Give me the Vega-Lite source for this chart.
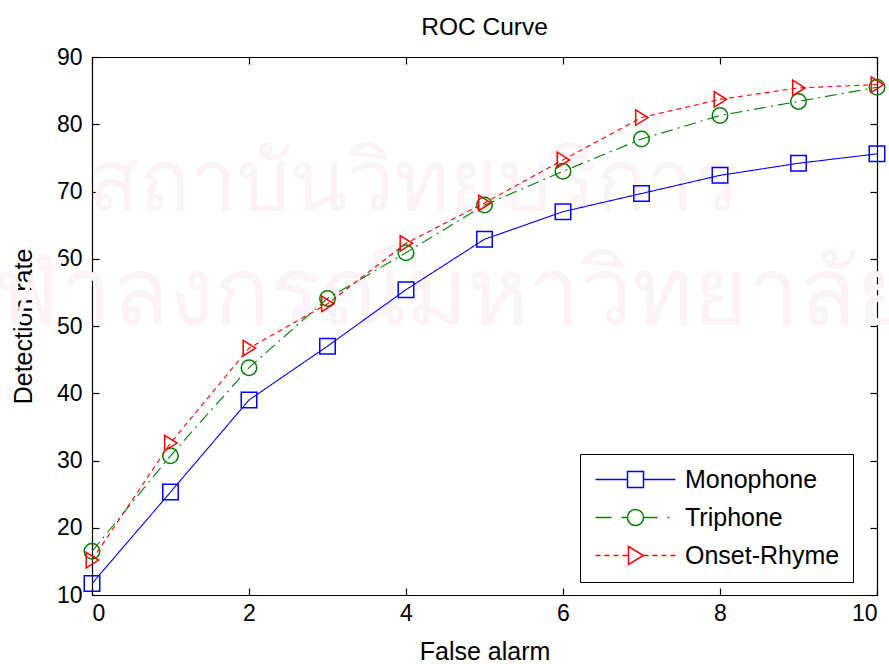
{
  "$schema": "https://vega.github.io/schema/vega-lite/v6.json",
  "width": 785,
  "height": 538,
  "autosize": "none",
  "padding": {"left": 92, "top": 57, "right": 12, "bottom": 69},
  "background": "white",
  "title": {"text": "ROC Curve", "font": "Liberation Sans, Arial, sans-serif", "fontSize": 24.5, "fontWeight": "normal", "color": "black", "offset": 6, "anchor": "middle"},
  "config": {
    "view": {"stroke": null},
    "axis": {
      "grid": false,
      "domainColor": "black",
      "domainWidth": 1.2,
      "tickColor": "black",
      "tickWidth": 1.2,
      "tickSize": -7,
      "labelColor": "black",
      "labelFont": "Liberation Sans, Arial, sans-serif",
      "labelFontSize": 23,
      "titleColor": "black",
      "titleFont": "Liberation Sans, Arial, sans-serif",
      "titleFontSize": 25,
      "titleFontWeight": "normal"
    }
  },
  "datasets": {
    "roc": [
      {"fa": 0, "dr": 11.7, "series": "Monophone"},
      {"fa": 1, "dr": 25.3, "series": "Monophone"},
      {"fa": 2, "dr": 39.0, "series": "Monophone"},
      {"fa": 3, "dr": 47.0, "series": "Monophone"},
      {"fa": 4, "dr": 55.4, "series": "Monophone"},
      {"fa": 5, "dr": 62.9, "series": "Monophone"},
      {"fa": 6, "dr": 67.0, "series": "Monophone"},
      {"fa": 7, "dr": 69.7, "series": "Monophone"},
      {"fa": 8, "dr": 72.4, "series": "Monophone"},
      {"fa": 9, "dr": 74.2, "series": "Monophone"},
      {"fa": 10, "dr": 75.6, "series": "Monophone"},
      {"fa": 0, "dr": 16.5, "series": "Triphone"},
      {"fa": 1, "dr": 30.7, "series": "Triphone"},
      {"fa": 2, "dr": 43.8, "series": "Triphone"},
      {"fa": 3, "dr": 54.1, "series": "Triphone"},
      {"fa": 4, "dr": 60.9, "series": "Triphone"},
      {"fa": 5, "dr": 68.0, "series": "Triphone"},
      {"fa": 6, "dr": 73.0, "series": "Triphone"},
      {"fa": 7, "dr": 77.8, "series": "Triphone"},
      {"fa": 8, "dr": 81.3, "series": "Triphone"},
      {"fa": 9, "dr": 83.4, "series": "Triphone"},
      {"fa": 10, "dr": 85.5, "series": "Triphone"},
      {"fa": 0, "dr": 15.2, "series": "Onset-Rhyme"},
      {"fa": 1, "dr": 32.6, "series": "Onset-Rhyme"},
      {"fa": 2, "dr": 46.7, "series": "Onset-Rhyme"},
      {"fa": 3, "dr": 53.3, "series": "Onset-Rhyme"},
      {"fa": 4, "dr": 62.3, "series": "Onset-Rhyme"},
      {"fa": 5, "dr": 68.3, "series": "Onset-Rhyme"},
      {"fa": 6, "dr": 74.7, "series": "Onset-Rhyme"},
      {"fa": 7, "dr": 81.0, "series": "Onset-Rhyme"},
      {"fa": 8, "dr": 83.7, "series": "Onset-Rhyme"},
      {"fa": 9, "dr": 85.4, "series": "Onset-Rhyme"},
      {"fa": 10, "dr": 85.9, "series": "Onset-Rhyme"}
    ],
    "wm": [
      {"fa": 4.1, "dr": 67.2, "t": "สถาบันวิทยบริการ", "line": 1},
      {"fa": 4.25, "dr": 50.3, "t": "จุฬาลงกรณ์มหาวิทยาลัย", "line": 2}
    ]
  },
  "layer": [
    {
      "data": {"name": "wm"},
      "transform": [{"filter": "datum.line == 1"}],
      "mark": {"type": "text", "color": "#fbf3f6", "fontSize": 84, "align": "center", "baseline": "alphabetic", "clip": false},
      "encoding": {
        "x": {"field": "fa", "type": "quantitative", "scale": {"domain": [0, 10], "nice": false, "zero": false}, "axis": null},
        "y": {"field": "dr", "type": "quantitative", "scale": {"domain": [10, 90], "nice": false, "zero": false}, "axis": null},
        "text": {"field": "t"}
      }
    },
    {
      "data": {"name": "wm"},
      "transform": [{"filter": "datum.line == 2"}],
      "mark": {"type": "text", "color": "#fbf3f6", "fontSize": 93, "align": "center", "baseline": "alphabetic", "clip": false},
      "encoding": {
        "x": {"field": "fa", "type": "quantitative", "axis": null},
        "y": {"field": "dr", "type": "quantitative", "axis": null},
        "text": {"field": "t"}
      }
    },
    {
      "data": {"name": "roc"},
      "mark": {"type": "line", "strokeWidth": 1.1},
      "encoding": {
        "x": {"field": "fa", "type": "quantitative", "scale": {"domain": [0, 10], "nice": false, "zero": false},
              "axis": {"orient": "bottom", "values": [0, 2, 4, 6, 8, 10], "title": "False alarm", "labelPadding": 14, "titlePadding": 14}},
        "y": {"field": "dr", "type": "quantitative", "scale": {"domain": [10, 90], "nice": false, "zero": false},
              "axis": {"orient": "left", "values": [10, 20, 30, 40, 50, 60, 70, 80, 90], "title": "Detection rate", "labelPadding": 17, "titlePadding": 20}},
        "color": {"field": "series", "type": "nominal", "scale": {"domain": ["Monophone", "Triphone", "Onset-Rhyme"], "range": ["#0000ff", "#008000", "#ff0000"]}, "legend": null},
        "strokeDash": {"field": "series", "type": "nominal", "scale": {"domain": ["Monophone", "Triphone", "Onset-Rhyme"], "range": [[1, 0], [12, 5, 2, 5], [5, 4]]}, "legend": null}
      }
    },
    {
      "data": {"name": "roc"},
      "mark": {"type": "point", "filled": false, "size": 240, "strokeWidth": 1.5, "opacity": 1},
      "encoding": {
        "x": {"field": "fa", "type": "quantitative", "axis": null},
        "y": {"field": "dr", "type": "quantitative", "axis": null},
        "color": {"field": "series", "type": "nominal", "legend": null},
        "shape": {"field": "series", "type": "nominal", "scale": {"domain": ["Monophone", "Triphone", "Onset-Rhyme"], "range": ["square", "circle", "M-0.75,-1L0.85,0L-0.75,1Z"]}, "legend": null}
      }
    },
    {
      "data": {"name": "roc"},
      "mark": {"type": "point", "filled": false, "size": 400, "opacity": 0},
      "encoding": {
        "x": {"field": "fa", "type": "quantitative", "axis": null},
        "y": {"field": "dr", "type": "quantitative", "axis": null},
        "color": {"field": "series", "type": "nominal",
                  "legend": {"orient": "none", "legendX": 488, "legendY": 397, "title": null, "padding": 13, "strokeColor": "black", "fillColor": "white", "symbolSize": 400, "symbolOpacity": 1, "symbolStrokeWidth": 1.5, "labelOffset": 67, "labelFont": "Liberation Sans, Arial, sans-serif", "labelFontSize": 25, "labelColor": "black", "rowPadding": 12, "symbolFillColor": "transparent"}},
        "shape": {"field": "series", "type": "nominal",
                  "scale": {"domain": ["Monophone", "Triphone", "Onset-Rhyme"],
                            "range": [
                              "M-1,0H2.2M3.8,0H7M2.2,-0.8H3.8V0.8H2.2Z",
                              "M-1,0H0.6M1.6,0H2.2M3.8,0A0.8,0.8,0,1,1,2.2,0A0.8,0.8,0,1,1,3.8,0M3.8,0H5.2M6.2,0H6.4",
                              "M-1,0H-0.5M-0.1,0H0.4M0.8,0H1.3M1.7,0H2.3M2.3,-0.9L3.8,0L2.3,0.9ZM3.8,0H4.3M4.7,0H5.2M5.6,0H6.1M6.5,0H7"
                            ]},
                  "legend": {"orient": "none", "legendX": 488, "legendY": 397, "title": null, "padding": 13, "strokeColor": "black", "fillColor": "white", "symbolSize": 400, "symbolOpacity": 1, "symbolStrokeWidth": 1.5, "labelOffset": 67, "labelFont": "Liberation Sans, Arial, sans-serif", "labelFontSize": 25, "labelColor": "black", "rowPadding": 12, "symbolFillColor": "transparent"}}
      }
    },
    {
      "data": {"name": "roc"},
      "mark": {"type": "point", "opacity": 0},
      "encoding": {
        "x": {"field": "fa", "type": "quantitative", "axis": {"orient": "top", "values": [0, 2, 4, 6, 8, 10], "labels": false, "title": null}},
        "y": {"field": "dr", "type": "quantitative", "axis": {"orient": "right", "values": [10, 20, 30, 40, 50, 60, 70, 80, 90], "labels": false, "title": null}}
      }
    }
  ],
  "resolve": {
    "scale": {"shape": "independent"},
    "axis": {"x": "independent", "y": "independent"},
    "legend": {"color": "independent", "shape": "independent", "strokeDash": "independent"}
  }
}
